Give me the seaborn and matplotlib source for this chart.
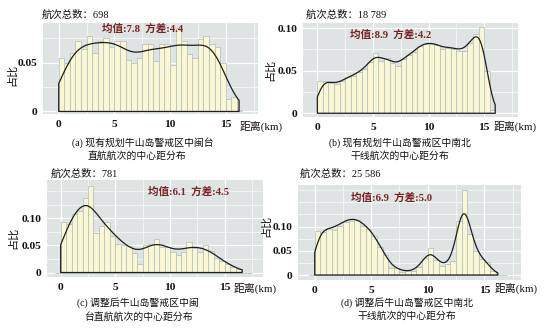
import numpy as np
import pandas as pd
import matplotlib
matplotlib.use("Agg")
import matplotlib.pyplot as plt
from matplotlib.ticker import MultipleLocator
import seaborn as sns

# ---------------- data ----------------
BIN_W = 0.5  # km per histogram bin, bins start at 0 km

share_a = [0.055, 0.050, 0.060, 0.072, 0.064, 0.077, 0.060, 0.072, 0.075, 0.066,
           0.072, 0.072, 0.053, 0.050, 0.055, 0.069, 0.069, 0.052, 0.069, 0.069,
           0.048, 0.086, 0.072, 0.059, 0.055, 0.074, 0.077, 0.069, 0.066, 0.050,
           0.013, 0.015, 0.002]
share_b = [0.0378, 0.0378, 0.0354, 0.034, 0.038, 0.042, 0.044, 0.048, 0.052, 0.060,
           0.071, 0.061, 0.065, 0.059, 0.056, 0.064, 0.068, 0.072, 0.0795, 0.0815,
           0.0815, 0.0807, 0.075, 0.077, 0.076, 0.073, 0.073, 0.083, 0.0925, 0.1015,
           0.050, 0.004]
share_c = [0.094, 0.0895, 0.1086, 0.114, 0.137, 0.160, 0.0735, 0.0864, 0.0926, 0.068,
           0.053, 0.0506, 0.0488, 0.0364, 0.016, 0.0506, 0.052, 0.062, 0.0475, 0.0475,
           0.037, 0.032, 0.037, 0.057, 0.0457, 0.038, 0.0506, 0.0395, 0.027, 0.021,
           0.015, 0.0105, 0.006]
share_d = [0.091, 0.088, 0.095, 0.093, 0.102, 0.110, 0.112, 0.1136, 0.102, 0.095,
           0.080, 0.058, 0.042, 0.015, 0.015, 0.007, 0.008, 0.008, 0.017, 0.035,
           0.056, 0.031, 0.018, 0.022, 0.0286, 0.112, 0.175, 0.085, 0.049, 0.0327,
           0.027, 0.008]

totals = ["698", "18 789", "781", "25 586"]
means = ["7.8", "8.9", "6.1", "6.9"]
spreads = ["4.4", "4.2", "4.5", "5.0"]
max_dist = [16.2, 16.0, 16.6, 16.2]          # furthest centre distance (km)
captions = [
    ("(a) 现有规划牛山岛警戒区中闽台", "直航航次的中心距分布"),
    ("(b) 现有规划牛山岛警戒区中南北", "干线航次的中心距分布"),
    ("(c) 调整后牛山岛警戒区中闽", "台直航航次的中心距分布"),
    ("(d) 调整后牛山岛警戒区中南北", "干线航次的中心距分布"),
]
x_ticks = [0, 5, 10, 15]
y_ticks = [[0, 0.05], [0, 0.05, 0.10], [0, 0.05, 0.10], [0, 0.05, 0.10]]
y_tick_labels = [["0", "0.05"], ["0", "0.05", "0.10"], ["0", "0.05", "0.10"], ["0", "0.05", "0.10"]]

# ---------------- style ----------------
W, H = 549, 334
BG = "#dde4e3"
BAR = "#fcf7d3"
BAR_EDGE = "#b9c3c3"
LINE = "#1e1e1e"
RED = "#7a2222"
sns.set_theme(style="darkgrid")
plt.rcParams["font.family"] = ["Liberation Serif", "Noto Sans CJK SC"]
plt.rcParams["axes.unicode_minus"] = False

fig = plt.figure(figsize=(W / 100, H / 100), dpi=100)
fig.patch.set_facecolor("white")


def fx(px):
    return px / W


def fy(py):
    return 1 - py / H


# axes boxes in pixels: left, right, top, bottom
boxes = [(42.7, 258, 23, 114), (303, 518, 23, 117), (47, 263, 180, 277), (298, 521, 185, 280)]
xlims = [(-1.44, 17.9), (-1.29, 18.05), (-1.25, 18.5), (-1.48, 18.25)]
ylims = [(-0.0026, 0.0907), (-0.0044, 0.106), (-0.0083, 0.171), (-0.0103, 0.1856)]
bin_ranges = [(0, 16.5), (0, 16.0), (-0.5, 17.5), (-0.5, 17.0)]
bandwidths = [1.0, 0.5, 0.9, 0.5]

header_pos = [(42, 15), (306, 15), (50.5, 173.5), (299.5, 174)]
stat_pos = [(143, 28.5), (390.5, 35), (189, 192), (391.5, 198)]
xlabel_pos = [(240, 126.5), (494, 126.5), (233.5, 288), (495, 288)]
ylabel_pos = [(11.5, 75), (270, 70), (13, 238), (266, 226)]
cap_pos = [(143, 143, 137, 156), (400, 143, 400, 156), (138, 303, 138, 317), (407, 303, 407, 316)]

all_shares = [share_a, share_b, share_c, share_d]

for i, share in enumerate(all_shares):
    l, r, t, b = boxes[i]
    ax = fig.add_axes([fx(l), fy(b), fx(r) - fx(l), fy(t) - fy(b)])
    ax.set_facecolor(BG)
    h = np.asarray(share, dtype=float)
    centers = BIN_W * (np.arange(len(h)) + 0.5)
    df = pd.DataFrame({"km": centers, "share": h})
    lo, hi = bin_ranges[i]
    n_bins = int(round((hi - lo) / BIN_W))
    edges = [lo + BIN_W * k for k in range(n_bins + 1)]
    sns.histplot(data=df, x="km", weights="share", bins=edges,
                 stat="count", color=BAR, edgecolor=BAR_EDGE, linewidth=0.6, alpha=1,
                 ax=ax, zorder=2)
    sd = float(np.sqrt(np.cov(centers, aweights=h)))
    sns.kdeplot(data=df, x="km", weights="share", bw_method=bandwidths[i] / sd,
                cut=3, clip=(0, max_dist[i]), fill=True, color=LINE, facecolor="none",
                edgecolor=LINE, linewidth=0.9, ax=ax, zorder=3)
    ax.set_xlim(*xlims[i])
    ax.set_ylim(*ylims[i])
    ax.set_xticks(x_ticks)
    ax.set_xticklabels([str(v) for v in x_ticks], fontweight="bold", fontsize=8.2)
    ax.set_yticks(y_ticks[i])
    ax.set_yticklabels(y_tick_labels[i], fontweight="bold", fontsize=8.2)
    ax.xaxis.set_minor_locator(MultipleLocator(2.5))
    ax.yaxis.set_minor_locator(MultipleLocator(0.025))
    ax.grid(which="major", color="white", linewidth=0.9)
    ax.grid(which="minor", color="white", linewidth=0.45)
    ax.set_axisbelow(True)
    for s in ax.spines.values():
        s.set_visible(False)
    ax.tick_params(axis="both", which="major", length=2.5, width=0.6, color="#666666",
                   labelcolor="#111111", pad=1.5)
    ax.tick_params(axis="both", which="minor", length=0)
    ax.set_xlabel("")
    ax.set_ylabel("")

    fig.text(fx(header_pos[i][0]), fy(header_pos[i][1]), "航次总数：" + totals[i],
             fontsize=7.5, ha="left", va="center", color="#111111")
    fig.text(fx(stat_pos[i][0]), fy(stat_pos[i][1]),
             "均值:" + means[i] + "  方差:" + spreads[i],
             fontsize=7.6, ha="center", va="center", color=RED, fontweight="bold")
    fig.text(fx(xlabel_pos[i][0]), fy(xlabel_pos[i][1]), "距离(km)",
             fontsize=7.8, ha="left", va="center", color="#111111")
    fig.text(fx(ylabel_pos[i][0]), fy(ylabel_pos[i][1]), "占比",
             fontsize=8, ha="center", va="center", rotation=90, color="#111111")
    c1x, c1y, c2x, c2y = cap_pos[i]
    fig.text(fx(c1x), fy(c1y), captions[i][0], fontsize=7.1, ha="center", va="center",
             color="#111111")
    fig.text(fx(c2x), fy(c2y), captions[i][1], fontsize=7.1, ha="center", va="center",
             color="#111111")

fig.savefig("out.png", dpi=100, facecolor="white")
